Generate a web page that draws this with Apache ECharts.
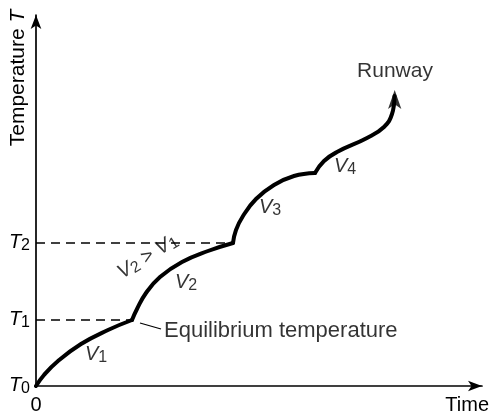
<!DOCTYPE html>
<html><head><meta charset="utf-8">
<script src="https://cdn.jsdelivr.net/npm/echarts@6/dist/echarts.min.js"></script>
<style>html,body{margin:0;padding:0;background:#fff}#c{width:493px;height:417px}</style>
</head><body><div id="c"></div>
<script>
// ---- data (time units / temperature units) ----
const seg1 = [[0,0],[8,11],[22,25],[45,42],[72,56],[96,66]];
const seg2 = [[96,66],[101,77],[110,93],[124,109],[146,124],[172,135],[197,143]];
const seg3 = [[197,143],[200,156],[207,170],[220,187],[238,201],[258,210],[279,213]];
const seg4 = [[279,213],[288,225],[301,234],[331,248],[348,259],[356,272],[358.5,290]];
const runwayArrow = [[358.7, 296]];
const T1 = 66, T2 = 143;
const tempTickValues = [0, T1, T2];
const tempTickSubs = ['0', '1', '2'];
const timeMax = 446, tempMax = 371;
const dashT1 = [[0, T1], [96, T1]];
const dashT2 = [[0, T2], [197, T2]];
const leader = [[104, 63], [125, 57]];
// annotation anchors
const annV = [
  {value: [60, 31], sub: '1'},
  {value: [150, 103], sub: '2'},
  {value: [234, 178], sub: '3'},
  {value: [309, 219], sub: '4'}
];
const annCompare = [112, 129];
const annRunway = [359, 315];
const annEquil = [128, 55];

const FONT = 'Liberation Sans, Arial, sans-serif';
const richTS = {
  m: {fontFamily: FONT, fontSize: 20, fontStyle: 'italic', color: '#000', verticalAlign: 'top', lineHeight: 21},
  s: {fontFamily: FONT, fontSize: 16, color: '#000', verticalAlign: 'bottom', lineHeight: 17, padding: [9, 0, 0, 0]},
  n: {fontFamily: FONT, fontSize: 20, color: '#000', verticalAlign: 'top', lineHeight: 21}
};

const chart = echarts.init(document.getElementById('c'), null, {renderer: 'canvas'});
const curveStyle = {color: '#000', width: 4, cap: 'round', join: 'round'};
const seg = d => ({type: 'line', data: d, smooth: 0.45, showSymbol: false, symbol: 'none', lineStyle: curveStyle, z: 5, silent: true});

chart.setOption({
  animation: false,
  backgroundColor: '#fff',
  grid: {left: 36, right: 11, top: 15, bottom: 31, outerBoundsMode: 'none'},
  xAxis: {
    type: 'value', min: 0, max: timeMax, interval: timeMax,
    splitLine: {show: false}, axisTick: {show: false},
    axisLine: {lineStyle: {color: '#000', width: 1.7}, symbol: ['none', 'arrow'], symbolSize: [8, 14]},
    axisLabel: {show: true, margin: 9, fontFamily: FONT, fontSize: 20, color: '#000',
      formatter: v => v === 0 ? '0' : ''},
    name: 'Time', nameLocation: 'end', nameGap: 7,
    nameTextStyle: {fontFamily: FONT, fontSize: 20, color: '#000', align: 'right', verticalAlign: 'top', padding: [9, 0, 0, 0]}
  },
  yAxis: {
    type: 'value', min: 0, max: tempMax,
    splitLine: {show: false}, axisTick: {show: false},
    axisLine: {lineStyle: {color: '#000', width: 1.7}, symbol: ['none', 'arrow'], symbolSize: [8, 14]},
    axisLabel: {show: true, margin: 6, customValues: tempTickValues,
      formatter: v => { const i = tempTickValues.indexOf(v); return i < 0 ? '' : '{m|T}{s|' + tempTickSubs[i] + '}'; },
      rich: richTS}
  },
  graphic: [{
    type: 'text', x: 18, y: 78, rotation: Math.PI / 2,
    style: {text: 'Temperature {m|T}', fontFamily: FONT, fontSize: 21, fill: '#000', align: 'center', verticalAlign: 'middle',
      rich: {m: {fontFamily: FONT, fontSize: 21, fontStyle: 'italic', fill: '#000'}}}
  }],
  series: [
    {type: 'line', data: dashT1, showSymbol: false, symbol: 'none', lineStyle: {color: '#000', width: 1.3, type: [9, 6]}, silent: true},
    {type: 'line', data: dashT2, showSymbol: false, symbol: 'none', lineStyle: {color: '#000', width: 1.3, type: [9, 6]}, silent: true},
    seg(seg1), seg(seg2), seg(seg3), seg(seg4),
    {type: 'scatter', data: runwayArrow, symbol: 'arrow', symbolSize: [10, 19], itemStyle: {color: '#000'}, z: 6, silent: true},
    {type: 'line', data: leader, showSymbol: false, symbol: 'none', lineStyle: {color: '#000', width: 1.2}, silent: true},
    {type: 'scatter', symbolSize: 0, silent: true, z: 7,
      data: annV.map(a => ({value: a.value, label: {formatter: '{m|V}{s|' + a.sub + '}'}})),
      label: {show: true, position: 'inside', rich: richTS}},
    {type: 'scatter', symbolSize: 0, silent: true, z: 7,
      data: [{value: annCompare}],
      label: {show: true, position: 'inside', rotate: 32, formatter: '{m|V}{s|2}{n| > }{m|V}{s|1}', rich: richTS}},
    {type: 'scatter', symbolSize: 0, silent: true, z: 7,
      data: [{value: annRunway}],
      label: {show: true, position: 'inside', formatter: 'Runway', fontFamily: FONT, fontSize: 21, color: '#000'}},
    {type: 'scatter', symbolSize: 0, silent: true, z: 7,
      data: [{value: annEquil}],
      label: {show: true, position: 'right', distance: 0, formatter: 'Equilibrium temperature', fontFamily: FONT, fontSize: 22, color: '#000'}}
  ]
});
</script></body></html>
